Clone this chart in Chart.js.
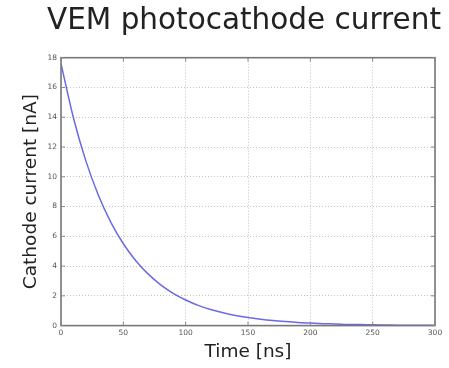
<!DOCTYPE html>
<html>
<head>
<meta charset="utf-8">
<script src="https://cdn.jsdelivr.net/npm/chart.js@4/dist/chart.umd.min.js"></script>
<style>
  html, body { margin: 0; padding: 0; background: #fff; }
  #wrap { width: 449px; height: 368px; }
</style>
</head>
<body>
<div id="wrap"><canvas id="cathodeChart"></canvas></div>
<script>
// time samples [ns] and photocathode current [nA]
const timeNs = [0, 10, 20, 30, 40, 50, 60, 70, 80, 90, 100, 110, 120, 130, 140, 150,
  160, 170, 180, 190, 200, 210, 220, 230, 240, 250, 260, 270, 280, 290, 300];
const currentNa = [17.6, 13.95, 11.05, 8.76, 6.94, 5.5, 4.36, 3.46, 2.74, 2.17, 1.72,
  1.36, 1.08, 0.86, 0.68, 0.54, 0.43, 0.34, 0.27, 0.21, 0.17, 0.13, 0.11, 0.08, 0.07,
  0.05, 0.04, 0.03, 0.03, 0.02, 0.02];

const xTicks = [0, 50, 100, 150, 200, 250, 300];
const yTicks = [0, 2, 4, 6, 8, 10, 12, 14, 16, 18];

const chartTitle = "VEM photocathode current";

const points = timeNs.map((t, i) => ({ x: t, y: currentNa[i] }));

// box around the plot area, like a matplotlib axes frame
const frame = {
  id: "frame",
  afterDatasetsDraw(chart) {
    const a = chart.chartArea;
    const ctx = chart.ctx;
    ctx.save();
    ctx.strokeStyle = "#777";
    ctx.lineWidth = 1.6;
    ctx.strokeRect(a.left, a.top, a.right - a.left, a.bottom - a.top);
    // small inward ticks
    ctx.lineWidth = 1;
    ctx.strokeStyle = "#888";
    const xs = chart.scales.x, ys = chart.scales.y;
    xTicks.forEach((v) => {
      const px = xs.getPixelForValue(v);
      ctx.beginPath();
      ctx.moveTo(px, a.bottom); ctx.lineTo(px, a.bottom - 4);
      ctx.moveTo(px, a.top); ctx.lineTo(px, a.top + 4);
      ctx.stroke();
    });
    yTicks.forEach((v) => {
      const py = ys.getPixelForValue(v);
      ctx.beginPath();
      ctx.moveTo(a.left, py); ctx.lineTo(a.left + 4, py);
      ctx.moveTo(a.right, py); ctx.lineTo(a.right - 4, py);
      ctx.stroke();
    });
    ctx.restore();
  },
};

// title centred over the plot area (may run wider than it)
const plotTitle = {
  id: "plotTitle",
  afterDraw(chart) {
    const a = chart.chartArea;
    const ctx = chart.ctx;
    ctx.save();
    ctx.fillStyle = "#222";
    ctx.font = "29.5px 'DejaVu Sans'";
    ctx.textAlign = "center";
    ctx.textBaseline = "alphabetic";
    ctx.fillText(chartTitle, (a.left + a.right) / 2 - 4, 28.5);
    ctx.restore();
  },
};

const ctx = document.getElementById("cathodeChart").getContext("2d");
new Chart(ctx, {
  type: "line",
  data: {
    datasets: [
      {
        label: "current",
        data: points,
        borderColor: "rgba(90, 90, 225, 0.9)",
        borderWidth: 1.5,
        pointRadius: 0,
        fill: false,
        cubicInterpolationMode: "monotone",
      },
    ],
  },
  options: {
    responsive: true,
    maintainAspectRatio: false,
    animation: false,
    layout: { padding: { left: 0, right: 14, top: 57.7, bottom: 0 } },
    plugins: {
      legend: { display: false },
      tooltip: { enabled: false },
      title: { display: false },
    },
    scales: {
      x: {
        type: "linear",
        min: 0,
        max: 300,
        afterFit: (scale) => { scale.height = 42.4; },
        afterBuildTicks: (scale) => { scale.ticks = xTicks.map((v) => ({ value: v })); },
        ticks: {
          color: "#555",
          font: { family: "DejaVu Sans", size: 7.5 },
          padding: 3,
          maxRotation: 0,
        },
        grid: {
          color: "#c4c4c4",
          lineWidth: 1,
          drawTicks: false,
        },
        border: { display: false, dash: [1, 2] },
        title: {
          display: true,
          text: "Time [ns]",
          color: "#222",
          font: { family: "DejaVu Sans", size: 18.5, lineHeight: 1.2 },
          padding: { top: 0, bottom: 5 },
        },
      },
      y: {
        min: 0,
        max: 18,
        afterFit: (scale) => { scale.width = 61; },
        afterBuildTicks: (scale) => { scale.ticks = yTicks.map((v) => ({ value: v })); },
        ticks: {
          color: "#555",
          font: { family: "DejaVu Sans", size: 7.5 },
          padding: 4,
        },
        grid: {
          color: "#c4c4c4",
          lineWidth: 1,
          drawTicks: false,
        },
        border: { display: false, dash: [1, 2] },
        title: {
          display: true,
          text: "Cathode current [nA]",
          color: "#222",
          font: { family: "DejaVu Sans", size: 18.5, lineHeight: 1.2 },
          padding: { top: 20, bottom: 0 },
        },
      },
    },
  },
  plugins: [frame, plotTitle],
});
</script>
</body>
</html>
